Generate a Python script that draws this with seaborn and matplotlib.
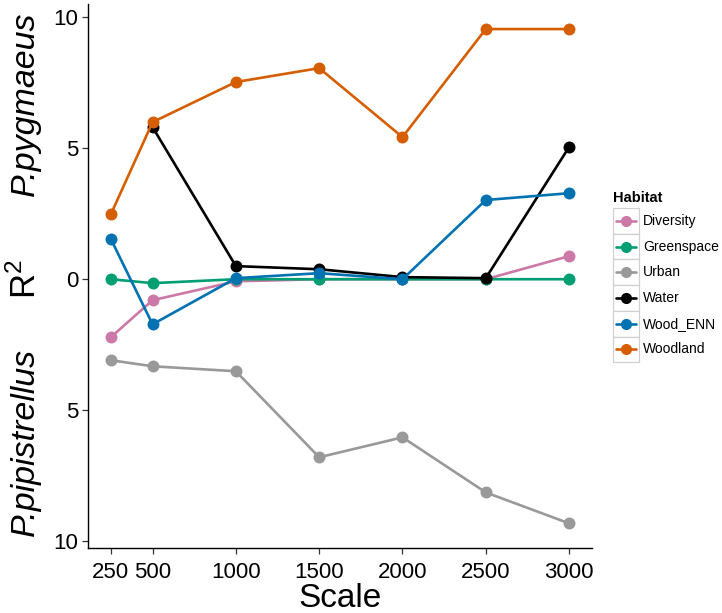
import numpy as np
import pandas as pd
import matplotlib
matplotlib.use("Agg")
import matplotlib.pyplot as plt
from matplotlib.patches import Rectangle
import seaborn as sns

# ---- data ----
scales = [250, 500, 1000, 1500, 2000, 2500, 3000]
habitats = ["Diversity", "Greenspace", "Urban", "Water", "Wood_ENN", "Woodland"]
diversity = [-2.21, -0.80, -0.08, 0.0, 0.0, 0.0, 0.88]
greenspace = [0.0, -0.15, 0.0, 0.0, 0.0, 0.0, 0.0]
urban = [-3.09, -3.32, -3.51, -6.79, -6.03, -8.13, -9.31]
water = [np.nan, 5.80, 0.50, 0.38, 0.08, 0.04, 5.04]
wood_enn = [1.53, -1.72, 0.04, 0.23, 0.0, 3.02, 3.28]
woodland = [2.48, 5.99, 7.52, 8.05, 5.42, 9.54, 9.54]
colors = ["#CC79A7", "#009E73", "#999999", "#000000", "#0072B2", "#D55E00"]
ytick_vals = [-10, -5, 0, 5, 10]
ytick_labels = ["10", "5", "0", "5", "10"]

series = [diversity, greenspace, urban, water, wood_enn, woodland]
df = pd.DataFrame({
    "Scale": scales * len(habitats),
    "Habitat": [h for h in habitats for _ in scales],
    "R2": [v for s in series for v in s],
})
palette = dict(zip(habitats, colors))

sns.set_theme(style="ticks")
plt.rcParams["font.family"] = ["Liberation Sans", "DejaVu Sans"]
plt.rcParams["mathtext.fontset"] = "custom"
plt.rcParams["mathtext.rm"] = "Liberation Sans"
plt.rcParams["mathtext.it"] = "Liberation Sans:italic"
plt.rcParams["text.color"] = "black"
plt.rcParams["axes.labelcolor"] = "black"

W, H = 722, 613
fig = plt.figure(figsize=(W / 100, H / 100), dpi=100)
ax = fig.add_axes([88 / W, 1 - 548 / H, (592 - 88) / W, (548 - 4.4) / H])

sns.lineplot(data=df, x="Scale", y="R2", hue="Habitat", hue_order=habitats,
             palette=palette, marker="o", markersize=8.6, markeredgewidth=0,
             linewidth=1.9, errorbar=None, legend=False, ax=ax)

ax.set_xlim(112.5, 3137.5)
ax.set_ylim(-10.25, 10.48)
ax.set_xticks(scales)
ax.set_xticklabels([str(s) for s in scales])
ax.set_yticks(ytick_vals)
ax.set_yticklabels(ytick_labels)
ax.tick_params(axis="both", labelsize=16, length=4, width=0.9,
               color="#333333", labelcolor="black", pad=3)
ax.tick_params(axis="x", pad=6)
for side in ["top", "right"]:
    ax.spines[side].set_visible(False)
for side in ["left", "bottom"]:
    ax.spines[side].set_color("black")
    ax.spines[side].set_linewidth(1.0)
ax.set_xlabel("Scale", fontsize=24, labelpad=0, color="black")
ax.set_ylabel("")

# composite y label
fig.text(25 / W, 1 - 104 / H, "P.pygmaeus", rotation=90, fontsize=24.5,
         style="italic", ha="center", va="center", color="black")
fig.text(26 / W, 1 - 279 / H, "R$^2$", rotation=90, fontsize=25,
         ha="center", va="center", color="black")
fig.text(25 / W, 1 - 442 / H, "P.pipistrellus", rotation=90, fontsize=24.5,
         style="italic", ha="center", va="center", color="black")

# legend (ggplot-like keys)
lax = fig.add_axes([0, 0, 1, 1])
lax.set_xlim(0, W)
lax.set_ylim(H, 0)
lax.axis("off")
lax.text(613, 198, "Habitat", fontsize=10.5, fontweight="bold",
         ha="left", va="center", color="black")
key_h = 25.7
y0 = 208
for i, (h, c) in enumerate(zip(habitats, colors)):
    top = y0 + i * key_h
    lax.add_patch(Rectangle((613, top), 26, key_h, facecolor="white",
                            edgecolor="#D0D0D0", linewidth=0.9))
    cy = top + key_h / 2
    lax.plot([616, 636], [cy, cy], color=c, linewidth=1.9)
    lax.plot([626], [cy], marker="o", color=c, markersize=8.0, markeredgewidth=0)
    lax.text(643, cy, h, fontsize=10, ha="left", va="center", color="black")

fig.savefig("out.png", dpi=100)
